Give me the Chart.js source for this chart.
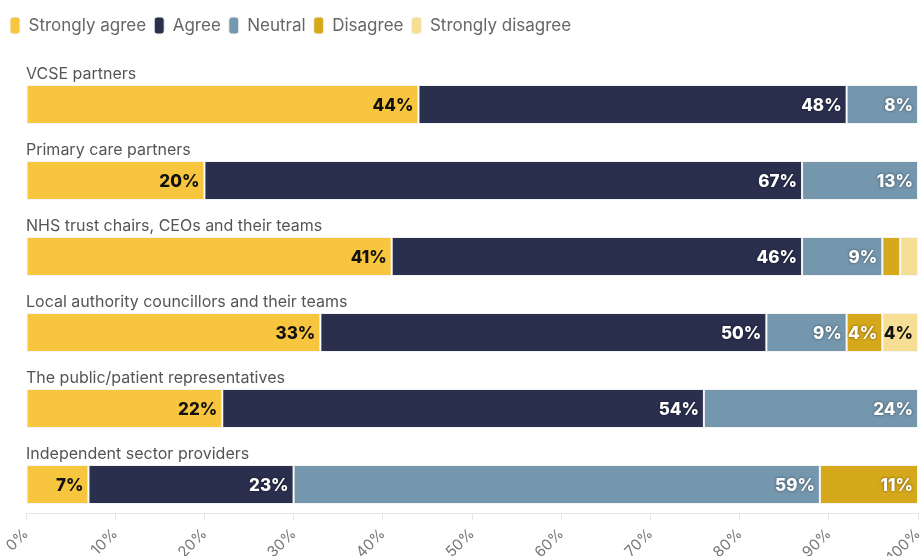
<!DOCTYPE html>
<html>
<head>
<meta charset="utf-8">
<script src="https://cdn.jsdelivr.net/npm/chart.js@4.4.1/dist/chart.umd.min.js"></script>
<style>
  html, body { margin: 0; padding: 0; background: #fff; }
  #wrap { width: 924px; height: 556px; }
</style>
</head>
<body>
<div id="wrap"><canvas id="surveyChart"></canvas></div>
<script>
// Survey groups, top to bottom
const groups = [
    "VCSE partners",
    "Primary care partners",
    "NHS trust chairs, CEOs and their teams",
    "Local authority councillors and their teams",
    "The public/patient representatives",
    "Independent sector providers"
];

// Share of responses (%) per answer
const stronglyAgree    = [44, 20, 41, 33, 22, 7];
const agree            = [48, 67, 46, 50, 54, 23];
const neutral          = [8, 13, 9, 9, 24, 59];
const disagree         = [0, 0, 2, 4, 0, 11];
const stronglyDisagree = [0, 0, 2, 4, 0, 0];

const xTicks = [0, 10, 20, 30, 40, 50, 60, 70, 80, 90, 100];

const FONT = "Inter, 'Noto Sans', sans-serif";
const BAR_SHIFT = 9.5;   // bars sit low in their band, label above
const MIN_LABEL = 3;     // smaller segments get no value label

const series = [
    { label: "Strongly agree",    data: stronglyAgree,    color: "#F8C63E", text: "#111" },
    { label: "Agree",             data: agree,            color: "#2A2F4E", text: "#fff" },
    { label: "Neutral",           data: neutral,          color: "#7597AE", text: "#fff" },
    { label: "Disagree",          data: disagree,         color: "#D6A81C", text: "#fff" },
    { label: "Strongly disagree", data: stronglyDisagree, color: "#F6DF95", text: "#111" }
];

// Extra room under the legend
const legendSpacer = {
    id: "legendSpacer",
    beforeInit(chart) {
        const fit = chart.legend.fit;
        chart.legend.fit = function () {
            fit.bind(this)();
            this.height += 13;
        };
    }
};

// Group names above bars + value labels inside segments
const barText = {
    id: "barText",
    beforeDatasetsDraw(chart) {
        chart.ctx.save();
        chart.ctx.translate(0, BAR_SHIFT);
    },
    afterDatasetsDraw(chart) {
        const ctx = chart.ctx;
        const first = chart.getDatasetMeta(0).data;

        ctx.font = "16px " + FONT;
        ctx.fillStyle = "#555";
        ctx.textAlign = "left";
        ctx.textBaseline = "bottom";
        first.forEach((bar, i) => {
            ctx.fillText(groups[i], chart.chartArea.left, bar.y - bar.height / 2 - 3);
        });

        ctx.font = "800 17px " + FONT;
        ctx.textAlign = "right";
        ctx.textBaseline = "middle";
        chart.data.datasets.forEach((ds, d) => {
            const meta = chart.getDatasetMeta(d);
            meta.data.forEach((bar, i) => {
                const v = ds.data[i];
                if (!v || v < MIN_LABEL) return;
                const s = series[d];
                ctx.save();
                if (s.text === "#fff") {
                    ctx.shadowColor = "rgba(0,0,0,0.5)";
                    ctx.shadowBlur = 3;
                }
                ctx.fillStyle = s.text;
                ctx.fillText(v + "%", bar.x - 5, bar.y + 1);
                ctx.restore();
            });
        });
        ctx.restore();
    }
};

new Chart(document.getElementById("surveyChart"), {
    type: "bar",
    data: {
        labels: groups,
        datasets: series.map(s => ({
            label: s.label,
            data: s.data,
            backgroundColor: s.color,
            borderColor: "#f4f4f4",
            borderWidth: 1,
            borderSkipped: false,
            categoryPercentage: 1,
            barPercentage: 0.513
        }))
    },
    options: {
        indexAxis: "y",
        responsive: true,
        maintainAspectRatio: false,
        animation: false,
        layout: { padding: { top: 9, left: 2, right: 6, bottom: 0 } },
        plugins: {
            legend: {
                position: "top",
                align: "start",
                labels: {
                    boxWidth: 10,
                    boxHeight: 17,
                    useBorderRadius: true,
                    borderRadius: 3,
                    padding: 8,
                    color: "#666",
                    font: { family: FONT, size: 17 }
                }
            },
            tooltip: { enabled: false }
        },
        scales: {
            x: {
                stacked: true,
                min: 0,
                max: 100,
                afterBuildTicks: scale => {
                    scale.ticks = xTicks.map(v => ({ value: v }));
                },
                afterFit: scale => {
                    scale.height = 43;
                    scale.paddingLeft = 0;
                    scale.paddingRight = 0;
                },
                grid: {
                    drawOnChartArea: false,
                    drawTicks: true,
                    tickLength: 7,
                    color: "#e6e6e6"
                },
                border: { display: true, color: "#e6e6e6" },
                ticks: {
                    minRotation: 45,
                    maxRotation: 45,
                    padding: 5,
                    color: "#777",
                    font: { family: FONT, size: 15 },
                    callback: v => v + "%"
                }
            },
            y: {
                stacked: true,
                afterFit: scale => { scale.width = 24; },
                grid: { display: false },
                border: { display: false },
                ticks: { display: false }
            }
        }
    },
    plugins: [legendSpacer, barText]
});
</script>
</body>
</html>
